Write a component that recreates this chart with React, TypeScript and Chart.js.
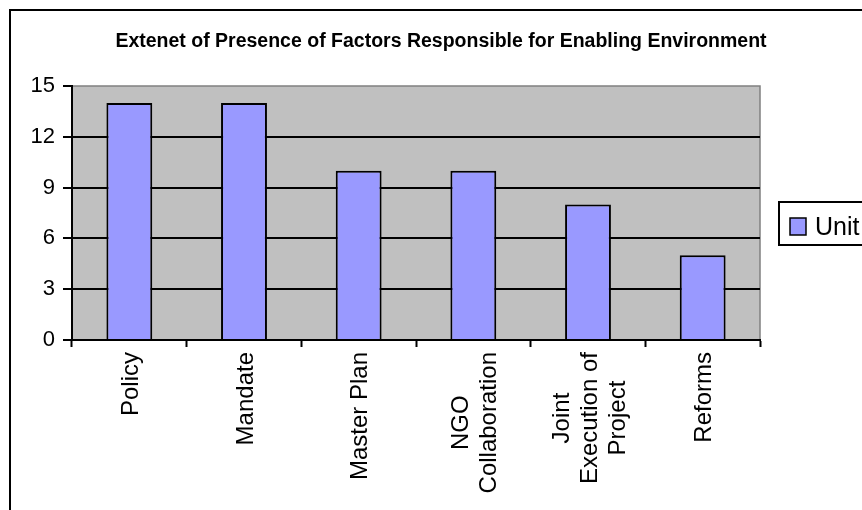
import React, { useEffect, useRef } from "react";
import { Chart, registerables } from "chart.js";

Chart.register(...registerables);

const TITLE = "Extenet of Presence of Factors Responsible for Enabling Environment";
const CATEGORIES: string[][] = [
  ["Policy"],
  ["Mandate"],
  ["Master Plan"],
  ["NGO", "Collaboration"],
  ["Joint", "Execution of", "Project"],
  ["Reforms"],
];
const UNIT_VALUES: number[] = [14, 14, 10, 10, 8, 5];
const SERIES_LABEL = "Unit";
const Y_MIN = 0;
const Y_MAX = 15;
const Y_STEP = 3;

const FONT_FAMILY = "'Liberation Sans', Arial, sans-serif";
const Y_LABEL_SIZE = 22;
const X_LABEL_SIZE = 24;
const LEGEND_SIZE = 25;
const BAR_COLOR = "#9999FF";
const PLOT_BG = "#C0C0C0";

const decorPlugin = {
  id: "excelDecor",
  beforeDraw(chart: any) {
    const { ctx, chartArea } = chart;
    const { left, top, right, bottom } = chartArea;
    ctx.save();
    ctx.fillStyle = "#ffffff";
    ctx.fillRect(0, 0, chart.width, chart.height);
    ctx.fillStyle = PLOT_BG;
    ctx.fillRect(left, top, right - left, bottom - top);
    ctx.strokeStyle = "#808080";
    ctx.lineWidth = 1.5;
    ctx.beginPath();
    ctx.moveTo(left, top);
    ctx.lineTo(right, top);
    ctx.lineTo(right, bottom);
    ctx.stroke();
    ctx.restore();
  },
  afterDraw(chart: any) {
    const { ctx } = chart;
    const xScale = chart.scales.x;
    ctx.save();
    // outer frame
    ctx.strokeStyle = "#000";
    ctx.lineWidth = 2;
    ctx.beginPath();
    ctx.moveTo(10, chart.height + 5);
    ctx.lineTo(10, 10);
    ctx.lineTo(chart.width + 5, 10);
    ctx.stroke();

    // title
    ctx.fillStyle = "#000";
    ctx.font = `bold 19.5px ${FONT_FAMILY}`;
    ctx.textAlign = "center";
    ctx.textBaseline = "middle";
    ctx.fillText(TITLE, 441, 42);

    // x labels (rotated, lines centred)
    ctx.font = `${X_LABEL_SIZE}px ${FONT_FAMILY}`;
    const lh = 28;
    const topY = 352;
    CATEGORIES.forEach((lines, i) => {
      const cx = xScale.getPixelForValue(i) + 2;
      const maxW = Math.max(...lines.map((l) => ctx.measureText(l).width));
      const n = lines.length;
      lines.forEach((line, k) => {
        const x = cx + (k - (n - 1) / 2) * lh;
        ctx.save();
        ctx.translate(x, topY + maxW / 2);
        ctx.rotate(-Math.PI / 2);
        ctx.textAlign = "center";
        ctx.textBaseline = "middle";
        ctx.fillText(line, 0, 0);
        ctx.restore();
      });
    });

    // legend
    ctx.lineWidth = 2;
    ctx.strokeStyle = "#000";
    ctx.strokeRect(779, 202, 120, 43);
    ctx.fillStyle = BAR_COLOR;
    ctx.fillRect(790, 218, 16, 17);
    ctx.lineWidth = 1.5;
    ctx.strokeRect(790, 218, 16, 17);
    ctx.fillStyle = "#000";
    ctx.font = `${LEGEND_SIZE}px ${FONT_FAMILY}`;
    ctx.textAlign = "left";
    ctx.textBaseline = "alphabetic";
    ctx.fillText(chart.data.datasets[0].label, 815, 235);
    ctx.restore();
  },
};

export default function App() {
  const ref = useRef<HTMLCanvasElement | null>(null);
  useEffect(() => {
    if (!ref.current) return;
    const chart = new Chart(ref.current, {
      type: "bar",
      data: {
        labels: CATEGORIES.map((c) => c.join(" ")),
        datasets: [
          {
            label: SERIES_LABEL,
            data: UNIT_VALUES,
            backgroundColor: BAR_COLOR,
            borderColor: "#000",
            borderWidth: 2,
            barPercentage: 0.4,
            categoryPercentage: 1,
          },
        ],
      },
      options: {
        responsive: false,
        animation: false,
        layout: { padding: { top: 86, right: 102, left: 0, bottom: 0 } },
        plugins: {
          legend: { display: false },
          title: { display: false },
          tooltip: { enabled: false },
        },
        scales: {
          x: {
            grid: {
              offset: true,
              drawOnChartArea: false,
              drawTicks: true,
              tickLength: 7,
              tickColor: "#000",
              tickWidth: 2,
            },
            border: { color: "#000", width: 2 },
            ticks: { display: false },
            afterFit: (s: any) => {
              s.height = 170;
            },
          },
          y: {
            min: Y_MIN,
            max: Y_MAX,
            ticks: {
              stepSize: Y_STEP,
              color: "#000",
              padding: 8,
              font: { family: FONT_FAMILY, size: Y_LABEL_SIZE },
            },
            grid: {
              color: (c: any) => (c.tick && c.tick.value === Y_MAX ? "rgba(0,0,0,0)" : "#000"),
              lineWidth: 2,
              tickLength: 9,
              tickColor: "#000",
              tickWidth: 2,
            },
            border: { color: "#000", width: 2 },
            afterFit: (s: any) => {
              s.width = 72;
            },
          },
        },
      },
      plugins: [decorPlugin],
    });
    return () => chart.destroy();
  }, []);
  return (
    <div style={{ position: "fixed", left: 0, top: 0, width: 862, height: 510, background: "#fff" }}>
      <canvas ref={ref} width={862} height={510} style={{ display: "block" }} />
    </div>
  );
}
